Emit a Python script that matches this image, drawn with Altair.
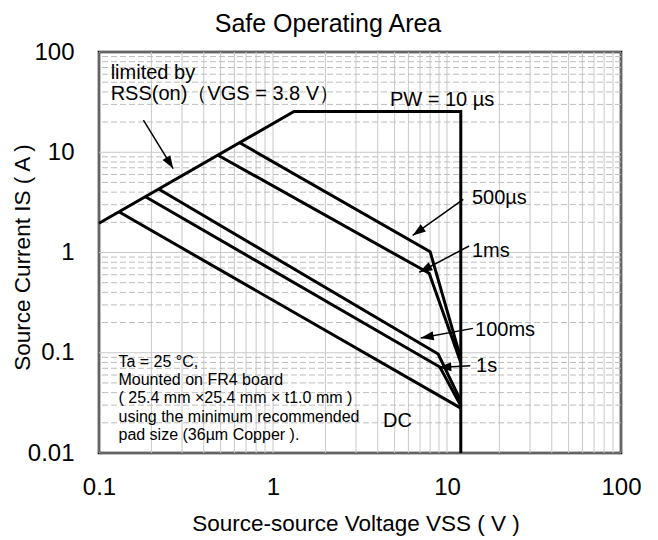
import math
import altair as alt
import pandas as pd

FONT = "Liberation Sans"
W, H = 522, 401
X_DOMAIN = [0.1, 100]
Y_DOMAIN = [0.01, 100]

# ---- SOA boundary curves (V, A) ----
pw_v = [0.1, 1.32, 12.0, 12.0]
pw_i = [1.96, 25.5, 25.5, 0.01]
us500_v = [0.64, 8.0, 12.0]
us500_i = [12.5, 1.02, 0.088]
ms1_v = [0.48, 7.9, 12.0]
ms1_i = [9.4, 0.62, 0.080]
ms100_v = [0.22, 8.9, 12.0]
ms100_i = [4.3, 0.097, 0.033]
s1_v = [0.185, 9.1, 12.0]
s1_i = [3.6, 0.072, 0.0295]
dc_v = [0.13, 12.0]
dc_i = [2.55, 0.028]

# ---- annotation arrows (from text to tip) ----
arrow_from_v = [0.18, 12.4, 13.4, 14.1, 13.6]
arrow_from_i = [20.9, 3.39, 1.16, 0.175, 0.074]
arrow_to_v = [0.267, 6.35, 6.93, 7.06, 8.91]
arrow_to_i = [6.87, 1.48, 0.635, 0.140, 0.0713]

# ---- annotation texts ----
label_text = ["limited by", "RSS(on)（VGS = 3.8 V）", "PW = 10 µs",
              "500µs", "1ms", "100ms", "1s", "DC"]
label_v = [0.1167, 0.1167, 4.70, 13.9, 13.9, 14.5, 14.7, 4.29]
label_i = [61.2, 38.0, 33.1, 3.47, 1.047, 0.170, 0.073, 0.0209]

note_text = ["Ta = 25 °C,", "Mounted on FR4 board",
             "( 25.4 mm ×25.4 mm × t1.0 mm )",
             "using the minimum recommended",
             "pad size (36µm Copper )."]
note_v = [0.1294] * 5
note_i = [0.080, 0.0533, 0.0357, 0.0229, 0.0150]

# ---- axes ticks / grid ----
x_ticks = [0.1, 1, 10, 100]
y_ticks = [0.01, 0.1, 1, 10, 100]
x_grid = [d * k for d in [0.1, 1, 10] for k in range(1, 10)] + [100]
y_grid_minor = [d * k for d in [0.01, 0.1, 1, 10] for k in range(2, 10)]
y_grid_major = [0.01, 0.1, 1, 10, 100]

x_title = "Source-source Voltage VSS ( V )"
y_title = "Source Current IS ( A )"
chart_title = "Safe Operating Area"

# ---- build tables ----
rows = []
for name, vs, is_ in [("PW10us", pw_v, pw_i), ("500us", us500_v, us500_i),
                      ("1ms", ms1_v, ms1_i), ("100ms", ms100_v, ms100_i),
                      ("1s", s1_v, s1_i), ("DC", dc_v, dc_i)]:
    for k, (v, i) in enumerate(zip(vs, is_)):
        rows.append({"series": name, "order": k, "V": v, "I": i})
curves = pd.DataFrame(rows)

pxx = W / (math.log10(X_DOMAIN[1]) - math.log10(X_DOMAIN[0]))
pxy = H / (math.log10(Y_DOMAIN[1]) - math.log10(Y_DOMAIN[0]))
angles = []
for fv, fi, tv, ti in zip(arrow_from_v, arrow_from_i, arrow_to_v, arrow_to_i):
    dx = pxx * (math.log10(tv) - math.log10(fv))
    dy = -pxy * (math.log10(ti) - math.log10(fi))
    angles.append(math.degrees(math.atan2(dy, dx)) % 360)
arrows = pd.DataFrame({"V": arrow_from_v, "I": arrow_from_i,
                       "V2": arrow_to_v, "I2": arrow_to_i, "ang": angles})
labels = pd.DataFrame({"t": label_text, "V": label_v, "I": label_i})
notes = pd.DataFrame({"t": note_text, "V": note_v, "I": note_i})

xs = alt.Scale(type="log", domain=X_DOMAIN, nice=False)
ys = alt.Scale(type="log", domain=Y_DOMAIN, nice=False)

x_axis = alt.Axis(values=x_ticks, format="~g", grid=False, ticks=False, tickSize=0,
                  domain=False, labelFont=FONT, labelFontSize=24, labelColor="black",
                  labelPadding=22, labelFlush=False, labelOverlap=False, labelBound=False,
                  title=x_title, titleFont=FONT, titleFontSize=22.5,
                  titleFontWeight="normal", titleColor="black", titleX=256.5,
                  titleY=70, titleBaseline="middle", titleAlign="center")
y_axis = alt.Axis(values=y_ticks, format="~g", grid=False, ticks=False, tickSize=0,
                  domain=False, labelFont=FONT, labelFontSize=24, labelColor="black",
                  labelPadding=25, labelFlush=False, labelOverlap=False, labelBound=False,
                  title=y_title, titleFont=FONT, titleFontSize=22.5,
                  titleFontWeight="normal", titleColor="black", titleX=-77,
                  titleY=205, titleBaseline="middle", titleAlign="center", titleAngle=270)


def X(f):
    return alt.X(f, type="quantitative", scale=xs, axis=x_axis)


def Y(f):
    return alt.Y(f, type="quantitative", scale=ys, axis=y_axis)


grid_v = alt.Chart(pd.DataFrame({"V": x_grid})).mark_rule(
    color="#c8c8c8", strokeWidth=1).encode(x=X("V"))
grid_h_minor = alt.Chart(pd.DataFrame({"I": y_grid_minor})).mark_rule(
    color="#bdbdbd", strokeWidth=1, strokeDash=[6, 3]).encode(y=Y("I"))
grid_h_major = alt.Chart(pd.DataFrame({"I": y_grid_major})).mark_rule(
    color="#c8c8c8", strokeWidth=1).encode(y=Y("I"))

lines = alt.Chart(curves).mark_line(color="black", strokeWidth=3).encode(
    x=X("V"), y=Y("I"), detail="series:N", order="order:Q")

shafts = alt.Chart(arrows).mark_rule(color="black", strokeWidth=1.5).encode(
    x=X("V"), y=Y("I"), x2="V2", y2="I2")
heads = alt.Chart(arrows).mark_point(
    shape="M0,0L-2,-0.7L-2,0.7Z", size=169, filled=True, color="black",
    opacity=1, strokeWidth=0).encode(
    x=X("V2"), y=Y("I2"), angle=alt.Angle("ang:Q", scale=None))

label_marks = alt.Chart(labels).mark_text(
    font=FONT, fontSize=20, align="left", baseline="middle", color="black").encode(
    x=X("V"), y=Y("I"), text="t:N")
note_marks = alt.Chart(notes).mark_text(
    font=FONT, fontSize=16, align="left", baseline="middle", color="black").encode(
    x=X("V"), y=Y("I"), text="t:N")

chart = alt.layer(grid_v, grid_h_minor, grid_h_major, lines, shafts, heads,
                  label_marks, note_marks).properties(
    width=W, height=H,
    padding={"left": 91, "top": 44, "right": 25, "bottom": 86},
    autosize=alt.AutoSizeParams(type="none"),
    title=alt.TitleParams(chart_title, font=FONT, fontSize=25, fontWeight="normal",
                          color="black", anchor="middle", frame="group", dx=-32,
                          offset=3.5),
).configure_view(stroke="black", strokeWidth=2.5)

chart.save("out.html", embed_options={"renderer": "svg", "actions": False})
